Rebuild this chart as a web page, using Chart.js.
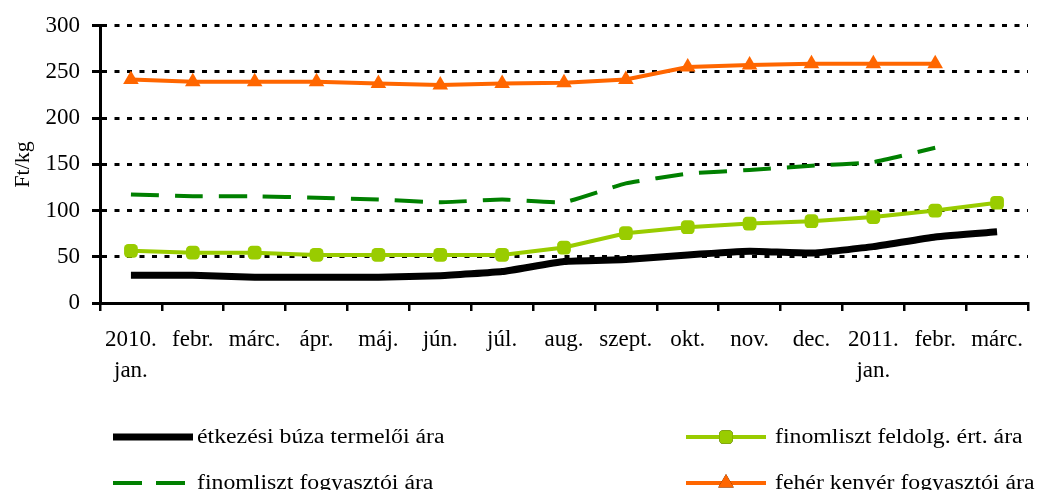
<!DOCTYPE html>
<html lang="hu">
<head>
    <meta charset="UTF-8">
    <title>Ft/kg</title>
    <script src="https://cdn.jsdelivr.net/npm/chart.js"></script>
    <style>
        body { margin: 0; background: #fff; }
        #wrap { width: 1039px; height: 490px; }
    </style>
</head>
<body>
  <div id="wrap"><canvas id="lineChart" width="1039" height="490"></canvas></div>
<script>
// data
const months = [['2010.', 'jan.'], 'febr.', 'márc.', 'ápr.', 'máj.', 'jún.', 'júl.', 'aug.', 'szept.', 'okt.', 'nov.', 'dec.', ['2011.', 'jan.'], 'febr.', 'márc.'];
const wheatProducer = [30, 30, 28, 28, 28, 29.5, 34, 45, 47, 52, 56, 54, 61, 71.5, 77];
const flourProcessor = [56.5, 54.5, 54.5, 52, 52, 52, 52, 60, 75.5, 82, 86, 88.5, 93, 100, 108.5];
const flourConsumer = [117.5, 115.5, 115.5, 114, 112, 109, 112, 109, 129.5, 140, 144, 148.5, 152.5, 168, null];
const breadConsumer = [242, 239.5, 239.5, 239.5, 237.5, 236, 237.5, 238.5, 242, 255.5, 257.5, 259, 259, 259, null];
const seriesNames = ['étkezési búza termelői ára', 'finomliszt feldolg. ért. ára', 'finomliszt fogyasztói ára', 'fehér kenyér fogyasztói ára'];
const yTicks = [0, 50, 100, 150, 200, 250, 300];

const serif = '"Liberation Serif", "Times New Roman", serif';

// legend drawn by hand, two columns like the original
const legendSlots = [
  {x: 113, y: 437, textX: 197},
  {x: 686, y: 437, textX: 775},
  {x: 113, y: 483, textX: 197},
  {x: 686, y: 483, textX: 775}
];
const sampleLen = 80;
const textStretch = 1.16; // legend text in the original is drawn wide

const legendPlugin = {
  id: 'twoColLegend',
  afterDraw(chart) {
    const ctx = chart.ctx;
    chart.data.datasets.forEach((ds, i) => {
      const slot = legendSlots[i];
      ctx.save();
      ctx.strokeStyle = ds.borderColor;
      ctx.lineWidth = ds.borderWidth;
      ctx.setLineDash(ds.borderDash ? [29, 14] : []);
      ctx.beginPath();
      ctx.moveTo(slot.x, slot.y);
      ctx.lineTo(slot.x + (ds.borderDash ? 73 : sampleLen), slot.y);
      ctx.stroke();
      ctx.setLineDash([]);
      if (ds.pointRadius > 0) {
        Chart.helpers.drawPoint(ctx, {
          pointStyle: ds.pointStyle,
          radius: ds.pointRadius,
          rotation: 0,
          borderWidth: 0
        }, slot.x + 40, slot.y);
        ctx.fillStyle = ds.pointBackgroundColor;
        ctx.fill();
      }
      ctx.fillStyle = '#000';
      ctx.font = '20.5px ' + serif;
      ctx.textBaseline = 'alphabetic';
      ctx.translate(slot.textX, slot.y + 6);
      ctx.scale(textStretch, 1);
      ctx.fillText(ds.label, 0, 0);
      ctx.restore();
    });
  }
};

document.addEventListener('DOMContentLoaded', () => {
  const ctx = document.getElementById('lineChart').getContext('2d');

  const chart = new Chart(ctx, {
    type: 'line',
    data: {
      labels: months,
      datasets: [{
        label: seriesNames[0],
        data: wheatProducer,
        borderColor: '#000000',
        backgroundColor: '#000000',
        borderWidth: 7,
        pointRadius: 0,
        tension: 0.12
      }, {
        label: seriesNames[1],
        data: flourProcessor,
        borderColor: '#99CC00',
        backgroundColor: '#99CC00',
        pointBackgroundColor: '#99CC00',
        borderWidth: 4,
        pointStyle: 'rectRounded',
        pointRadius: 8,
        pointBorderWidth: 0,
        tension: 0
      }, {
        label: seriesNames[2],
        data: flourConsumer,
        borderColor: '#008000',
        backgroundColor: '#008000',
        borderWidth: 4,
        borderDash: [28, 16],
        pointRadius: 0,
        tension: 0.12
      }, {
        label: seriesNames[3],
        data: breadConsumer,
        borderColor: '#FF6600',
        backgroundColor: '#FF6600',
        pointBackgroundColor: '#FF6600',
        borderWidth: 4,
        pointStyle: 'triangle',
        pointRadius: 9,
        pointBorderWidth: 0,
        tension: 0
      }]
    },
    options: {
      responsive: false,
      animation: false,
      events: [],
      layout: {
        padding: {left: 0, right: 11, top: 24, bottom: 105}
      },
      plugins: {
        legend: {display: false},
        tooltip: {enabled: false}
      },
      scales: {
        x: {
          offset: true,
          grid: {
            offset: true,
            drawOnChartArea: false,
            drawTicks: true,
            tickLength: 8,
            color: '#000',
            lineWidth: 2.5
          },
          border: {color: '#000', width: 3},
          ticks: {
            color: '#000',
            padding: 13,
            maxRotation: 0,
            autoSkip: false,
            font: {family: serif, size: 23, lineHeight: 1.35}
          },
          afterFit(scale) {
            scale.height = 82;
          }
        },
        y: {
          min: 0,
          max: 300,
          afterBuildTicks(scale) {
            scale.ticks = yTicks.map(v => ({value: v}));
          },
          grid: {
            color: '#000',
            lineWidth: 3,
            drawTicks: true,
            tickLength: 8,
            tickBorderDash: []
          },
          border: {color: '#000', width: 3, dash: [5, 7.5]},
          ticks: {
            color: '#000',
            padding: 12,
            font: {family: serif, size: 23}
          },
          title: {
            display: true,
            text: 'Ft/kg',
            color: '#000',
            padding: {top: 10, bottom: 0},
            font: {family: serif, size: 22}
          },
          afterFit(scale) {
            scale.width = 100;
          }
        }
      }
    },
    plugins: [legendPlugin]
  });
  console.log('chart area', chart.chartArea);
});
</script>
</body>
</html>
